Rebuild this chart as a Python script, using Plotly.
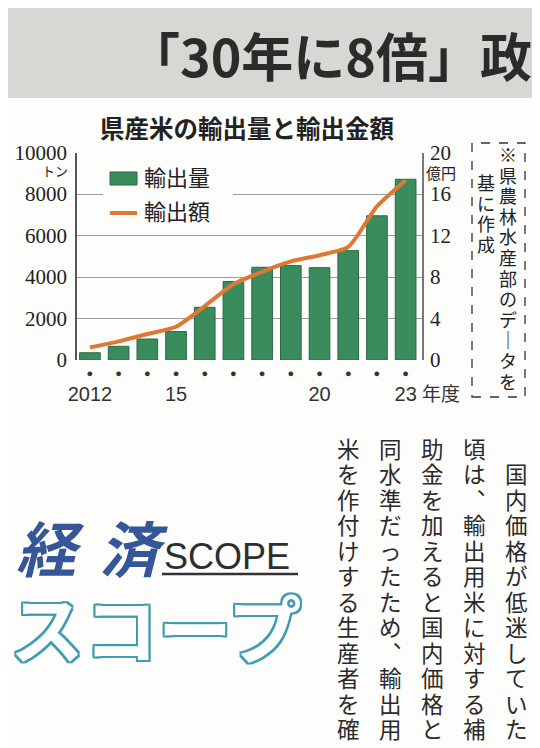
import plotly.graph_objects as go

# ---------------- data ----------------
years = [2012, 2013, 2014, 2015, 2016, 2017, 2018, 2019, 2020, 2021, 2022, 2023]
x_tick_labels = ["2012", "", "", "15", "", "", "", "", "20", "", "", "23"]
export_volume_t = [350, 660, 1010, 1370, 2540, 3780, 4470, 4550, 4450, 5270, 6950, 8710]
export_value_oku = [1.2, 1.8, 2.5, 3.2, 5.2, 7.3, 8.5, 9.5, 10.1, 10.9, 14.8, 17.3]
left_ticks = [0, 2000, 4000, 6000, 8000, 10000]
right_ticks = [0, 4, 8, 12, 16, 20]

chart_title = "県産米の輸出量と輸出金額"
series_names = ["輸出量", "輸出額"]
left_unit = "トン"
right_unit = "億円"
x_unit = "年度"
source_note_columns = ["※県農林水産部のデ｜タを", "基に作成"]
headline = "「30年に8倍」政"
logo_top = ["経", "済"]
logo_scope = "SCOPE"
logo_bottom = "スコープ"
body_columns = [
    "\u3000国内価格が低迷していた",
    "頃は︑輸出用米に対する補",
    "助金を加えると国内価格と",
    "同水準だったため︑輸出用",
    "米を作付けする生産者を確",
]

# ---------------- layout helpers ----------------
# page body has an 8px margin; the figure is sized so the page is exactly 540x748
OFF = 8
W, H = 540 - OFF, 748 - OFF
def fx(x):
    return (x - OFF) / W
def fy(y):
    return 1 - (y - OFF) / H

PL, PR, PT, PB = 77, 422, 152.5, 360
JP = "Liberation Sans, Noto Sans CJK JP"
SERIF = "Liberation Serif"
GREEN = "#3a8c5c"
ORANGE = "#de7833"

idx = list(range(len(years)))

fig = go.Figure()
fig.add_trace(go.Bar(
    x=idx, y=export_volume_t, name=series_names[0], width=0.72,
    marker=dict(color=GREEN, line=dict(color="#2a6a45", width=1)),
    xaxis="x", yaxis="y", showlegend=False,
))
fig.add_trace(go.Scatter(
    x=idx, y=export_value_oku, name=series_names[1], mode="lines",
    line=dict(color=ORANGE, width=4, shape="spline", smoothing=0.6),
    xaxis="x2", yaxis="y2", showlegend=False,
))

xr = [-0.45, 11.57]
fig.update_layout(
    template="none",
    width=W, height=H,
    margin=dict(l=0, r=0, t=0, b=0, pad=0),
    paper_bgcolor="#fdfdfc", plot_bgcolor="rgba(0,0,0,0)",
    showlegend=False,
    xaxis=dict(
        domain=[fx(PL), fx(PR)], range=xr, anchor="y",
        tickmode="array", tickvals=idx, ticktext=["●"] * len(idx),
        tickfont=dict(size=11, color="#333"), ticks="", showgrid=False,
        zeroline=False, showline=False, automargin=False, ticklabelstandoff=5,
    ),
    xaxis2=dict(
        domain=[fx(PL), fx(PR)], range=xr, anchor="y", overlaying="x", side="bottom",
        tickmode="array", tickvals=idx, ticktext=x_tick_labels,
        tickfont=dict(size=20, color="#333", family="Liberation Sans Narrow, Liberation Sans, sans-serif"),
        ticks="", showgrid=False, zeroline=False, showline=False, automargin=False,
        ticklabelstandoff=20,
    ),
    yaxis=dict(
        domain=[fy(PB), fy(PT)], range=[0, 10000], anchor="x",
        tickmode="array", tickvals=left_ticks, tickformat="d",
        tickfont=dict(size=21, color="#222", family=SERIF),
        ticks="", showgrid=True, gridcolor="#9c9c9c", gridwidth=1,
        zeroline=False, showline=True, linecolor="#555", linewidth=1.5,
        automargin=False, ticklabelstandoff=4,
    ),
    yaxis2=dict(
        domain=[fy(PB), fy(PT)], range=[0, 20], anchor="x", overlaying="y", side="right",
        tickmode="array", tickvals=right_ticks,
        tickfont=dict(size=21, color="#222", family=SERIF),
        ticks="", showgrid=False, zeroline=False, showline=True,
        linecolor="#777", linewidth=1.5, automargin=False, ticklabelstandoff=2,
    ),
)

shapes = []
annotations = []

def note(text, x, y, size, xanchor="center", color="#222", family=JP, **font_kw):
    annotations.append(dict(text=text, xref="paper", yref="paper", x=fx(x), y=fy(y),
                            xanchor=xanchor, yanchor="middle", showarrow=False,
                            font=dict(family=family, size=size, color=color, **font_kw)))

def vertical(text, x, y_first, pitch, size, color="#222"):
    for j, ch in enumerate(text):
        if ch.strip() == "":
            continue
        note(ch, x, y_first + j * pitch, size, color=color)

# headline band
shapes.append(dict(type="rect", xref="paper", yref="paper", x0=fx(8), x1=1,
                   y0=fy(98), y1=1, fillcolor="#d7d7d4", line=dict(width=0), layer="below"))
note(headline, 126, 54, 52, xanchor="left", color="#2b2b2b", family="Noto Sans CJK JP", weight="bold")

# chart title
note(chart_title, 247, 130, 24.5, weight="bold")

# units
note(left_unit, 70, 172, 13, xanchor="right")
note(right_unit, 424, 173, 15, xanchor="left")
note(x_unit, 420, 394, 19, xanchor="left", color="#333")

# legend
shapes.append(dict(type="rect", xref="paper", yref="paper", x0=fx(103), x1=fx(233),
                   y0=fy(228), y1=fy(166), fillcolor="#fdfdfc", line=dict(width=0), layer="above"))
shapes.append(dict(type="rect", xref="paper", yref="paper", x0=fx(110), x1=fx(137),
                   y0=fy(185), y1=fy(172), fillcolor=GREEN, line=dict(color="#2a6a45", width=1), layer="above"))
shapes.append(dict(type="line", xref="paper", yref="paper", x0=fx(110), x1=fx(137),
                   y0=fy(213), y1=fy(213), line=dict(color=ORANGE, width=4), layer="above"))
for name, yy in zip(series_names, [179, 213]):
    note(name, 142, yy, 22, xanchor="left")

# source note (vertical, dashed box)
shapes.append(dict(type="rect", xref="paper", yref="paper", x0=fx(472), x1=fx(525),
                   y0=fy(397), y1=fy(143), line=dict(color="#333", width=1.3, dash="dash"),
                   fillcolor="rgba(0,0,0,0)"))
for col, cx, y0 in zip(source_note_columns, [508, 486], [156, 184]):
    vertical(col, cx, y0, 20.6, 18)

# logo
for ch, lx in zip(logo_top, [14, 97]):
    note(ch, lx, 551, 60, xanchor="left", color="#35579a", weight="bold", style="italic")
note(logo_scope, 162, 556, 36, xanchor="left", color="#2e2e2e", family="Liberation Sans, sans-serif")
shapes.append(dict(type="line", xref="paper", yref="paper", x0=fx(162), x1=fx(298),
                   y0=fy(574), y1=fy(574), line=dict(color="#333", width=2.5)))
outline = ",".join(f"{dx}px {dy}px 0 #3f9db2" for dx in (-2, 0, 2) for dy in (-2, 0, 2) if (dx, dy) != (0, 0))
note(logo_bottom, 8, 632, 74, xanchor="left", color="#ffffff", weight="bold", shadow=outline)

# body text (vertical columns, right to left)
for col, cx in zip(body_columns, [516, 474, 432, 390, 348]):
    vertical(col, cx, 450, 25.5, 22.5, color="#2a2a2a")

fig.update_layout(shapes=shapes, annotations=annotations)
fig.write_html("out.html")
